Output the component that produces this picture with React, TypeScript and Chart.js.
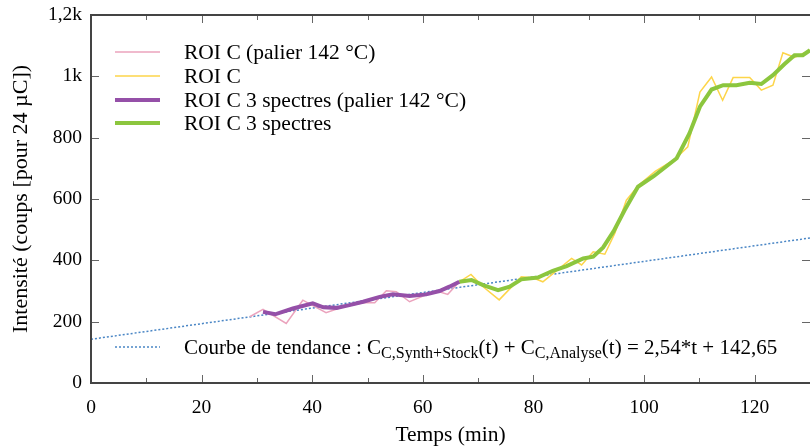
import React, { useEffect, useRef } from "react";
import { Chart, registerables } from "chart.js";

Chart.register(...registerables);

// ---- data ----
const palierT = [28.7, 31.1, 35.3, 38.3, 42.5, 45.5, 49.2, 51.3, 53.4, 55.2, 57.6, 59.7, 62.4, 64.5, 66.6];
const palierV = [216, 240, 194, 270, 229, 248, 262, 262, 301, 298, 265, 281, 301, 289, 330];

const palier3T = [31.1, 33.3, 36.5, 40.1, 42.0, 44.4, 46.7, 49.2, 52.2, 54.6, 57.6, 60.6, 63.0, 64.8, 66.6];
const palier3V = [232, 224, 243, 260, 247, 245, 254, 265, 281, 289, 284, 289, 300, 314, 330];

const roiT = [66.6, 68.7, 70.9, 73.8, 77.8, 79.9, 81.7, 86.9, 88.7, 90.8, 92.9, 94.7, 96.8, 99.0, 102.0, 105.6, 107.9, 110.1, 112.2, 114.2, 116.1, 119.1, 121.2, 123.3, 125.1, 127.2, 130];
const roiV = [330, 354, 314, 271, 346, 343, 330, 406, 385, 428, 420, 488, 596, 645, 690, 730, 770, 949, 998, 922, 996, 996, 955, 971, 1077, 1062, 1085];

const roi3T = [66.6, 68.8, 70.9, 73.6, 75.7, 77.8, 80.8, 83.5, 86.0, 89.0, 90.8, 92.6, 94.5, 96.5, 98.9, 101.8, 105.9, 108.2, 110.1, 112.2, 114.3, 116.7, 119.1, 121.2, 123.3, 125.4, 127.2, 128.7, 130];
const roi3V = [330, 336, 319, 303, 314, 338, 344, 366, 381, 406, 412, 442, 495, 564, 640, 675, 733, 814, 901, 957, 971, 971, 979, 975, 1004, 1040, 1069, 1069, 1085];

const trendT = [0, 130];
const trendV = [142.65, 472.85];

const xTicks = [0, 20, 40, 60, 80, 100, 120];
const yTicks = [0, 200, 400, 600, 800, 1000, 1200];
const yTickLabels = ["0", "200", "400", "600", "800", "1k", "1,2k"];

const seriesLabels = [
  "ROI C (palier 142 °C)",
  "ROI C",
  "ROI C 3 spectres (palier 142 °C)",
  "ROI C 3 spectres",
];
const trendLabelParts = [
  { t: "Courbe de tendance : C", sub: false },
  { t: "C,Synth+Stock", sub: true },
  { t: "(t) + C", sub: false },
  { t: "C,Analyse", sub: true },
  { t: "(t) = 2,54*t + 142,65", sub: false },
];

const FONT = "'Liberation Serif', 'Times New Roman', serif";
const pts = (xs: number[], ys: number[]) => xs.map((x, i) => ({ x, y: ys[i] }));

const overlayPlugin = {
  id: "overlay",
  afterDraw(chart: any) {
    const { ctx, chartArea, scales } = chart;
    const xs = scales.x;
    const ys = scales.y;
    const L = chartArea.left, R = chartArea.right, T = chartArea.top, B = chartArea.bottom;
    ctx.save();
    // inward ticks
    ctx.strokeStyle = "#666";
    ctx.lineWidth = 1;
    for (let v = 0; v <= 130; v += 10) {
      const px = Math.round(xs.getPixelForValue(v)) + 0.5;
      const len = v % 20 === 0 ? 8 : 5;
      ctx.beginPath();
      ctx.moveTo(px, B); ctx.lineTo(px, B - len);
      ctx.moveTo(px, T); ctx.lineTo(px, T + len);
      ctx.stroke();
    }
    for (const v of yTicks) {
      const py = Math.round(ys.getPixelForValue(v)) + 0.5;
      ctx.beginPath();
      ctx.moveTo(L, py); ctx.lineTo(L + 8, py);
      ctx.moveTo(R, py); ctx.lineTo(R - 8, py);
      ctx.stroke();
    }
    // frame
    ctx.strokeStyle = "#444";
    ctx.lineWidth = 2;
    ctx.beginPath();
    ctx.moveTo(R, T); ctx.lineTo(L, T); ctx.lineTo(L, B); ctx.lineTo(R, B);
    ctx.stroke();

    // legend
    const ds = chart.data.datasets;
    const rowY = [52, 76, 100, 123];
    ctx.font = `21.5px ${FONT}`;
    ctx.textBaseline = "middle";
    ctx.fillStyle = "#000";
    for (let i = 0; i < 4; i++) {
      ctx.strokeStyle = ds[i].borderColor;
      ctx.lineWidth = ds[i].borderWidth;
      ctx.beginPath();
      ctx.moveTo(L + 24, rowY[i]); ctx.lineTo(L + 69, rowY[i]);
      ctx.stroke();
      ctx.fillText(seriesLabels[i], L + 93, rowY[i] + 1);
    }
    // trend legend
    const ty = 347;
    ctx.strokeStyle = ds[4].borderColor;
    ctx.lineWidth = ds[4].borderWidth;
    ctx.setLineDash(ds[4].borderDash);
    ctx.beginPath();
    ctx.moveTo(L + 24, ty); ctx.lineTo(L + 69, ty);
    ctx.stroke();
    ctx.setLineDash([]);
    ctx.textBaseline = "alphabetic";
    let x = L + 93;
    const base = ty + 7;
    for (const p of trendLabelParts) {
      ctx.font = p.sub ? `16px ${FONT}` : `21px ${FONT}`;
      ctx.fillText(p.t, x, p.sub ? base + 4 : base);
      x += ctx.measureText(p.t).width;
    }
    ctx.restore();
  },
};

export default function App() {
  const ref = useRef<HTMLCanvasElement | null>(null);
  useEffect(() => {
    if (!ref.current) return;
    const chart = new Chart(ref.current, {
      type: "line",
      data: {
        datasets: [
          { label: seriesLabels[0], data: pts(palierT, palierV), borderColor: "#eba3bd", borderWidth: 1.5, pointRadius: 0, tension: 0, order: 4 },
          { label: seriesLabels[1], data: pts(roiT, roiV), borderColor: "#fdd54a", borderWidth: 1.5, pointRadius: 0, tension: 0, order: 3 },
          { label: seriesLabels[2], data: pts(palier3T, palier3V), borderColor: "#9550a8", borderWidth: 4, pointRadius: 0, tension: 0, order: 1 },
          { label: seriesLabels[3], data: pts(roi3T, roi3V), borderColor: "#8cc63e", borderWidth: 4, pointRadius: 0, tension: 0, order: 2 },
          { label: "trend", data: pts(trendT, trendV), borderColor: "#4a86c5", borderWidth: 1.5, borderDash: [2, 2], pointRadius: 0, tension: 0, order: 5 },
        ] as any,
      },
      options: {
        animation: false,
        responsive: false,
        devicePixelRatio: 1,
        layout: { padding: { left: 0, right: 0, top: 15, bottom: 0 } },
        plugins: { legend: { display: false }, tooltip: { enabled: false } },
        scales: {
          x: {
            type: "linear",
            min: 0,
            max: 130,
            grid: { display: false, drawTicks: false },
            border: { display: false },
            afterBuildTicks: (s: any) => { s.ticks = xTicks.map((v) => ({ value: v })); },
            afterFit: (s: any) => { s.height = 65; s.paddingLeft = 0; s.paddingRight = 0; },
            ticks: { autoSkip: false, maxRotation: 0, padding: 13, color: "#000", font: { family: FONT, size: 19.5 } },
            title: { display: true, text: "Temps (min)", color: "#000", padding: { top: 4, bottom: 0 }, font: { family: FONT, size: 21.5 } },
          },
          y: {
            type: "linear",
            min: 0,
            max: 1200,
            grid: { display: false, drawTicks: false },
            border: { display: false },
            afterBuildTicks: (s: any) => { s.ticks = yTicks.map((v) => ({ value: v })); },
            afterFit: (s: any) => { s.width = 91; s.paddingTop = 0; s.paddingBottom = 0; },
            ticks: {
              autoSkip: false,
              padding: 9,
              color: "#000",
              font: { family: FONT, size: 19.5 },
              callback: (v: any) => { const i = yTicks.indexOf(Number(v)); return i >= 0 ? yTickLabels[i] : ""; },
            },
            title: { display: true, text: "Intensité (coups [pour 24 µC])", color: "#000", padding: { top: 8, bottom: 0 }, font: { family: FONT, size: 22 } },
          },
        },
      },
      plugins: [overlayPlugin],
    } as any);
    return () => chart.destroy();
  }, []);
  return (
    <div style={{ position: "fixed", left: 0, top: 0, width: 810, height: 448, background: "#fff" }}>
      <canvas ref={ref} width={810} height={448} style={{ display: "block" }} />
    </div>
  );
}
